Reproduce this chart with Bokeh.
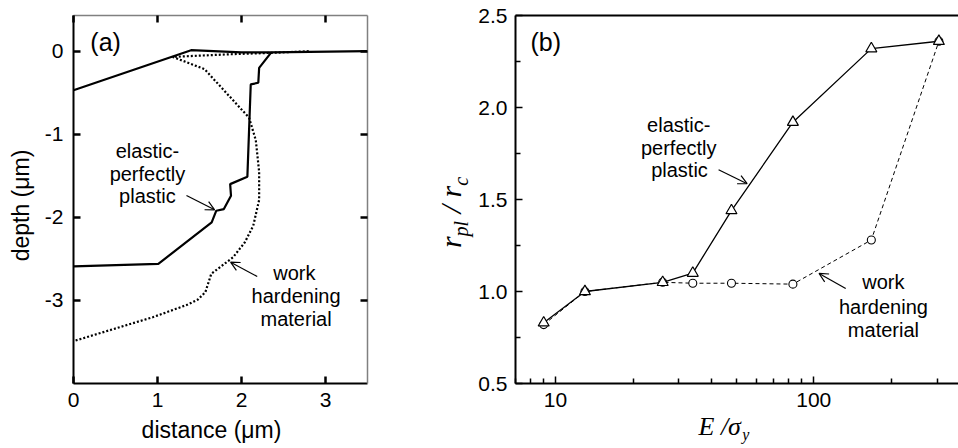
import math
from bokeh.plotting import figure
from bokeh.models import (FixedTicker, LinearAxis, LogAxis, Range1d, Label, Arrow,
                          OpenHead, PrintfTickFormatter)
from bokeh.layouts import row
from bokeh.embed import file_html
from bokeh.resources import INLINE

SANS = "Liberation Sans"
SERIF = "Liberation Serif"

# ---------------- panel (a) data ----------------
a_xticks = [0, 1, 2, 3]
a_yticks = [0, -1, -2, -3]
a_xlim = (0.0, 3.5)
a_ylim = (-4.0, 0.43)

# elastic-perfectly plastic: surface profile and plastic-zone boundary (um)
ep_surface_x = [0.0, 1.40, 2.00, 2.35, 3.50]
ep_surface_y = [-0.47, 0.012, -0.015, -0.015, 0.0]
ep_boundary_x = [0.0, 1.01, 1.645, 1.70, 1.79, 1.875, 1.865, 2.07, 2.11, 2.20, 2.21, 2.35]
ep_boundary_y = [-2.59, -2.56, -2.06, -1.92, -1.90, -1.74, -1.60, -1.51, -0.40, -0.38, -0.20, -0.02]

# work hardening material: plastic-zone boundary (um)
wh_boundary_x = [2.80, 2.35, 1.90, 1.18, 1.56, 2.09, 2.17, 2.21, 2.21, 2.14, 2.04,
                 1.90, 1.64, 1.57, 1.48, 1.36, 0.95, 0.0]
wh_boundary_y = [0.0, -0.02, -0.035, -0.068, -0.216, -0.80, -1.07, -1.45, -1.79, -2.10, -2.30,
                 -2.48, -2.68, -2.90, -2.99, -3.05, -3.20, -3.49]

# ---------------- panel (b) data ----------------
E_over_sy = [9, 13, 26, 34, 48, 83, 167, 305]
rpl_ep = [0.83, 1.00, 1.05, 1.10, 1.44, 1.92, 2.32, 2.36]
rpl_wh = [0.82, 1.00, 1.05, 1.045, 1.045, 1.04, 1.28, 2.36]

b_xticks = [10, 100]
b_xminor = [7, 8, 9, 20, 30, 40, 50, 60, 70, 80, 90, 200, 300]
b_yticks = [0.5, 1.0, 1.5, 2.0, 2.5]
b_yminor = [0.75, 1.25, 1.75, 2.25]
b_xlim_left = 7
b_ylim = (0.5, 2.5)

# ---------------- layout (pixels) ----------------
H = 448
W1, W2 = 377, 581
A_LEFT, A_RIGHT, A_TOP, A_BOTTOM = 73, 367, 15, 383
B_X10, B_DEC, B_TOP, B_BOTTOM = 178, 258.3, 15, 383
MID = 0.345  # distance baseline -> middle of the text box, in em


def lin_range(d0, d1, p0, p1, total):
    s = (p1 - p0) / (d1 - d0)
    return d0 - p0 / s, d0 + (total - p0) / s


def style_axis(ax, tick_w=2.0, major_in=7, minor_in=0, line_w=2.0, line_color="black",
               standoff=9, show_labels=True):
    ax.major_tick_in = major_in
    ax.major_tick_out = 0
    ax.minor_tick_in = minor_in
    ax.minor_tick_out = 0
    ax.major_tick_line_width = tick_w
    ax.minor_tick_line_width = tick_w
    ax.major_tick_line_color = "black" if major_in else None
    ax.minor_tick_line_color = "black" if minor_in else None
    ax.axis_line_width = line_w
    ax.axis_line_color = line_color
    ax.major_label_text_font = SANS
    ax.major_label_text_font_size = "21px"
    ax.major_label_text_color = "black"
    ax.major_label_standoff = standoff
    if not show_labels:
        ax.major_label_text_font_size = "0px"
        ax.major_label_standoff = 0
        ax.major_label_overrides = {t: "" for t in (ax.ticker.ticks or [])}


def txt(p, text, x, y, size=20, align="center", angle=0.0, **kw):
    # (x, y) is the baseline anchor; the label is drawn middle-anchored and
    # shifted back by the baseline->middle distance along the text's up direction
    up = MID * size
    p.add_layout(Label(x=x, y=y, text=text, text_font=kw.pop("font", SANS),
                       text_font_size=f"{size}px", text_align=align, angle=angle,
                       x_offset=-up * math.sin(angle), y_offset=up * math.cos(angle),
                       text_baseline="middle", text_color="black", **kw))


def base_fig(width, **kw):
    p = figure(width=width, height=H, output_backend="svg", toolbar_location=None,
               min_border_left=0, min_border_right=0, min_border_top=0, min_border_bottom=0,
               x_axis_location=None, y_axis_location=None, **kw)
    p.grid.visible = False
    p.outline_line_color = None
    p.background_fill_color = "white"
    p.border_fill_color = "white"
    return p


# ================= panel (a) =================
ax0, ax1 = lin_range(a_xlim[0], a_xlim[1], A_LEFT, A_RIGHT, W1)
ay0, ay1 = lin_range(a_ylim[0], a_ylim[1], H - A_BOTTOM, H - A_TOP, H)
p1 = base_fig(W1, x_range=Range1d(ax0, ax1), y_range=Range1d(ay0, ay1))

bottom1 = LinearAxis(ticker=FixedTicker(ticks=a_xticks), formatter=PrintfTickFormatter(format="%d"),
                     fixed_location=a_ylim[0], bounds=a_xlim)
style_axis(bottom1, tick_w=2.5, standoff=9)
p1.add_layout(bottom1, "below")
left1 = LinearAxis(ticker=FixedTicker(ticks=a_yticks), formatter=PrintfTickFormatter(format="%d"),
                   fixed_location=a_xlim[0], bounds=a_ylim)
style_axis(left1, tick_w=2.5, standoff=10)
p1.add_layout(left1, "left")
top1 = LinearAxis(ticker=FixedTicker(ticks=a_xticks), fixed_location=a_ylim[1], bounds=a_xlim)
style_axis(top1, tick_w=2.5, line_w=1.5, line_color="#808080", show_labels=False)
p1.add_layout(top1, "above")
right1 = LinearAxis(ticker=FixedTicker(ticks=a_yticks), fixed_location=a_xlim[1], bounds=a_ylim)
style_axis(right1, tick_w=2.5, line_w=1.5, line_color="#808080", show_labels=False)
p1.add_layout(right1, "right")

p1.line(wh_boundary_x, wh_boundary_y, line_width=2.2, color="black", line_dash="2 2")
p1.line(ep_surface_x, ep_surface_y, line_width=2.2, color="black")
p1.line(ep_boundary_x, ep_boundary_y, line_width=2.2, color="black")

txt(p1, "(a)", 0.2, 0.01, size=25, align="left")
txt(p1, "elastic-", 0.88, -1.29)
txt(p1, "perfectly", 0.88, -1.56)
txt(p1, "plastic", 0.88, -1.83)
txt(p1, "work", 2.63, -2.75)
txt(p1, "hardening", 2.65, -3.03)
txt(p1, "material", 2.65, -3.31)

p1.add_layout(Arrow(end=OpenHead(size=9, line_width=1.2, line_color="black"),
                    x_start=1.345, y_start=-1.737, x_end=1.68, y_end=-1.909,
                    line_width=1.2, line_color="black"))
p1.add_layout(Arrow(end=OpenHead(size=9, line_width=1.2, line_color="black"),
                    x_start=2.187, y_start=-2.712, x_end=1.87, y_end=-2.54,
                    line_width=1.2, line_color="black"))

# axis titles (screen px inside the figure, y measured from the bottom)
txt(p1, "distance (\u03bcm)", 211, 11, size=23, x_units="screen", y_units="screen")
txt(p1, "depth (\u03bcm)", 28, 243, size=23, x_units="screen", y_units="screen",
    angle=math.pi / 2)

# ================= panel (b) =================
bx0 = 10 ** (1 - B_X10 / B_DEC)
bx1 = 10 ** (1 + (W2 - B_X10) / B_DEC)
by0, by1 = lin_range(b_ylim[0], b_ylim[1], H - B_BOTTOM, H - B_TOP, H)
p2 = base_fig(W2, x_axis_type="log", x_range=Range1d(bx0, bx1), y_range=Range1d(by0, by1))

bottom2 = LogAxis(ticker=FixedTicker(ticks=b_xticks, minor_ticks=b_xminor),
                  formatter=PrintfTickFormatter(format="%d"),
                  fixed_location=b_ylim[0], bounds=(b_xlim_left, bx1))
style_axis(bottom2, tick_w=1.5, major_in=7, minor_in=5, standoff=9)
p2.add_layout(bottom2, "below")
left2 = LinearAxis(ticker=FixedTicker(ticks=b_yticks, minor_ticks=b_yminor),
                   formatter=PrintfTickFormatter(format="%.1f"),
                   fixed_location=b_xlim_left, bounds=b_ylim)
style_axis(left2, tick_w=1.5, major_in=7, minor_in=5, standoff=8)
p2.add_layout(left2, "left")
top2 = LogAxis(ticker=FixedTicker(ticks=[]), fixed_location=b_ylim[1], bounds=(b_xlim_left, bx1))
style_axis(top2, major_in=0, line_w=2.0, show_labels=False)
p2.add_layout(top2, "above")

p2.line(E_over_sy, rpl_wh, line_width=1.0, color="black", line_dash="4 3")
p2.line(E_over_sy, rpl_ep, line_width=1.3, color="black")
p2.scatter(E_over_sy, rpl_wh, marker="circle", size=8, fill_color="white",
           line_color="black", line_width=1.1)
p2.scatter(E_over_sy, rpl_ep, marker="triangle", size=11, fill_color="white",
           line_color="black", line_width=1.2)

txt(p2, "(b)", 8.0, 2.31, size=25, align="left")
txt(p2, "elastic-", 30.0, 1.866)
txt(p2, "perfectly", 30.0, 1.743)
txt(p2, "plastic", 30.2, 1.621)
txt(p2, "work", 186, 1.015)
txt(p2, "hardening", 186, 0.879)
txt(p2, "material", 186, 0.752)

p2.add_layout(Arrow(end=OpenHead(size=9, line_width=1.2, line_color="black"),
                    x_start=42.8, y_start=1.662, x_end=55.2, y_end=1.586,
                    line_width=1.2, line_color="black"))
p2.add_layout(Arrow(end=OpenHead(size=9, line_width=1.2, line_color="black"),
                    x_start=132.9, y_start=1.016, x_end=104.8, y_end=1.098,
                    line_width=1.2, line_color="black"))

# y title: r_pl / r_c (rotated, built from pieces)
big, small = 30, 20
w = {"r": 0.389, "p": 0.5, "l": 0.278, " ": 0.25, "/": 0.278, "c": 0.444}
pieces = [("r", big, 0), ("pl", small, 1), (" / ", big, 0), ("r", big, 0), ("c", small, 1)]
total = sum(sum(w[ch] for ch in t) * s for t, s, _ in pieces)
pos = 236 - total / 2
for t, s, sub in pieces:
    txt(p2, t.strip(), 83 + (7 if sub else 0),
        pos + (w[" "] * s if t.startswith(" ") else 0),
        size=s, align="left", font=SERIF, text_font_style="italic",
        x_units="screen", y_units="screen", angle=math.pi / 2)
    pos += sum(w[ch] for ch in t) * s

# x title: E / sigma_y
xpieces = [("E", 26, 0, 0.611), (" /", 26, 0, 0.528), ("\u03c3", 26, 0, 0.54), ("y", 16, 1, 0.444)]
xpos = 321
for t, s, sub, wd in xpieces:
    lead = 0.25 * s if t.startswith(" ") else 0
    txt(p2, t.strip(), xpos + lead, 13 - (5 if sub else 0), size=s, align="left",
        font=SERIF, text_font_style="italic", x_units="screen", y_units="screen")
    xpos += wd * s

layout = row(p1, p2)
open("out.html", "w").write(file_html(layout, INLINE))
